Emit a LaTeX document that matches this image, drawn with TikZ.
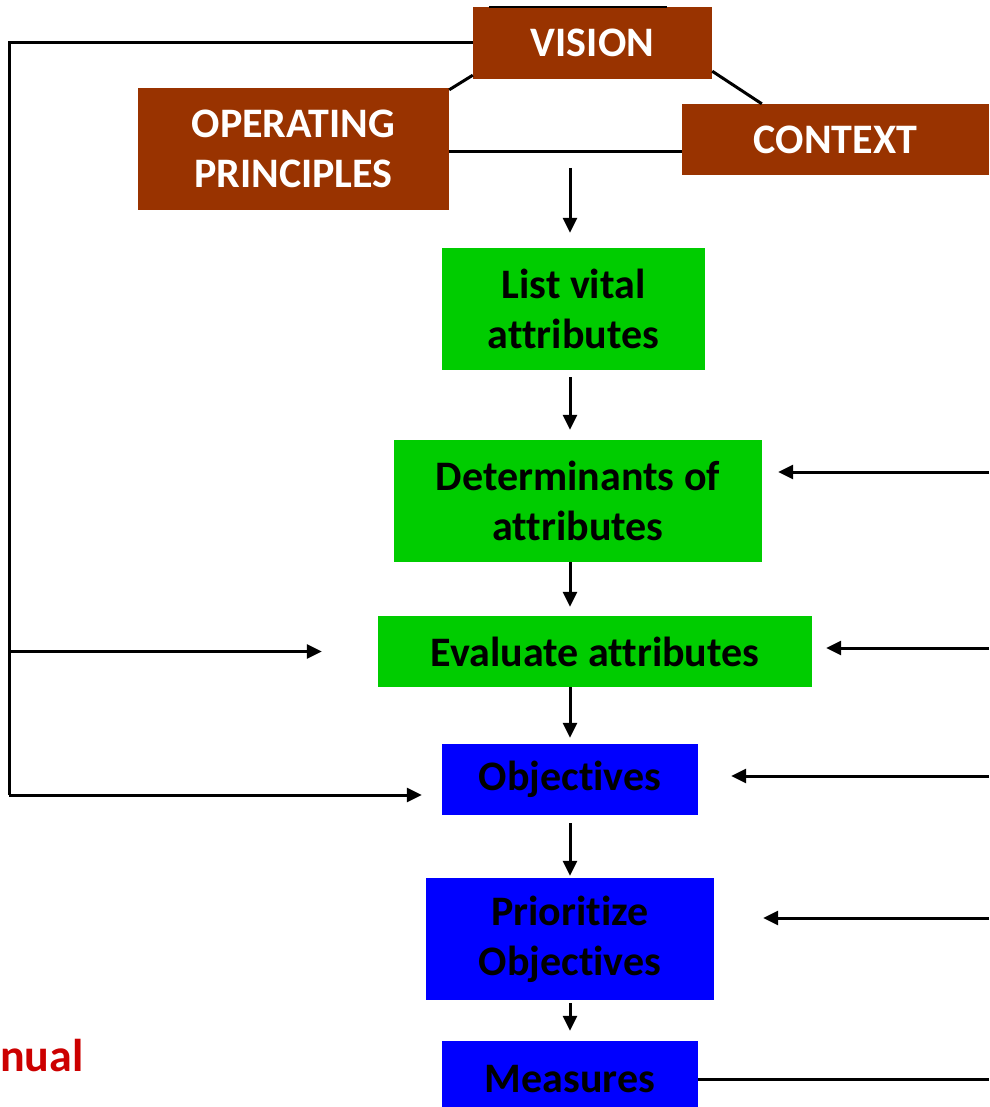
\documentclass[tikz,border=0pt]{standalone}
\usepackage{fontspec}
\setmainfont{Carlito}[Ligatures=NoCommon]
\usetikzlibrary{arrows.meta}
\definecolor{rust}{RGB}{153,51,0}
\definecolor{leaf}{RGB}{0,204,0}
\definecolor{ink}{RGB}{0,0,255}
\definecolor{alert}{RGB}{204,0,0}
\newcommand*{\bigtext}{\fontsize{42}{50}\selectfont\bfseries}

\begin{document}
\begin{tikzpicture}[x=1pt, y=-1pt, font=\bigtext,
    rustbox/.style  = {fill=rust, text=white, inner sep=0pt, align=center},
    leafbox/.style  = {fill=leaf, text=black, inner sep=0pt, align=center},
    inkbox/.style   = {fill=ink,  text=black, inner sep=0pt, align=center},
    link/.style     = {line width=3pt},
    flow/.style     = {line width=3pt, -{Triangle[length=15pt, width=14pt]}}]
    \useasboundingbox (0,0) rectangle (989,1107);

    % top block
    \node [rustbox, minimum width=239pt, minimum height=72pt]  (vision)  at (592.5, 43)  {VISION};
    \node [rustbox, minimum width=311pt, minimum height=122pt] (oper)    at (293.5,149)  {OPERATING\\PRINCIPLES};
    \node [rustbox, minimum width=307pt, minimum height=71pt]  (context) at (835.5,139.5) {CONTEXT};

    % attribute steps
    \node [leafbox, minimum width=263pt, minimum height=122pt] (list) at (573.5,309)   {List vital\\attributes};
    \node [leafbox, minimum width=368pt, minimum height=122pt] (det)  at (578,  501)   {Determinants of\\attributes};
    \node [leafbox, minimum width=434pt, minimum height=71pt]  (eval) at (595,  651.5) {Evaluate attributes};

    % objective steps
    \node [inkbox, minimum width=256pt, minimum height=71pt]  (obj)  at (570, 779.5) {Objectives};
    \node [inkbox, minimum width=288pt, minimum height=122pt] (prio) at (570, 939)   {Prioritize\\Objectives};
    \node [inkbox, minimum width=256pt, minimum height=76pt]  (meas) at (570,1079)   {Measures};

    \node [text=alert, anchor=base west, inner sep=0pt, font=\fontsize{46}{50}\selectfont\bfseries] (annual) at (0,1071) {nual};

    % helper points
    \coordinate (axis)    at (570,0);
    \coordinate (split)   at (570,168);
    \coordinate (railtop) at (9,43);
    \coordinate (railend) at (9,795);
    \coordinate (indet)   at (989,472);
    \coordinate (ineval)  at (989,648);
    \coordinate (inobj)   at (989,776);
    \coordinate (inprio)  at (989,918);
    \coordinate (outmeas) at (989,1079);

    % links of the top block
    \draw [line width=2pt] ([xshift=16pt]vision.north west) -- ([xshift=-45pt]vision.north east);
    \draw [link] ([yshift=4pt]vision.south west) -- ([yshift=-2pt]oper.north east);
    \draw [link] ([yshift=8pt]vision.south east) -- ([xshift=80pt]context.north west);
    \draw [link] ([yshift=-3pt]oper.east) -- ([yshift=-3pt]oper.east -| context.west);

    % main flow
    \draw [flow, shorten >=15pt] (split) -- (split |- list.north);
    \draw [flow, shorten <=7pt, shorten >=10pt] (list.south -| axis) -- (det.north -| axis);
    \draw [flow, shorten >=9pt] (det.south -| axis) -- (eval.north -| axis);
    \draw [flow, shorten >=6pt] (eval.south -| axis) -- (obj.north -| axis);
    \draw [flow, shorten <=8pt, shorten >=2pt] (obj.south -| axis) -- (prio.north -| axis);
    \draw [flow, shorten <=3pt, shorten >=10pt] (prio.south -| axis) -- (meas.north -| axis);

    % feedback rail on the left
    \draw [link] (vision.west) -- (railtop) -- (railend);
    \draw [flow, shorten >=56pt] (railtop |- eval.west) -- (eval.west);
    \draw [flow, shorten >=20pt] (railend) -- (railend -| obj.west);

    % inputs from the right
    \draw [flow, shorten >=16pt] (indet)  -- (indet -| det.east);
    \draw [flow, shorten >=14pt] (ineval) -- (ineval -| eval.east);
    \draw [flow, shorten >=33pt] (inobj)  -- (inobj -| obj.east);
    \draw [flow, shorten >=49pt] (inprio) -- (inprio -| prio.east);
    \draw [link] (meas.east) -- (outmeas);
\end{tikzpicture}
\end{document}
